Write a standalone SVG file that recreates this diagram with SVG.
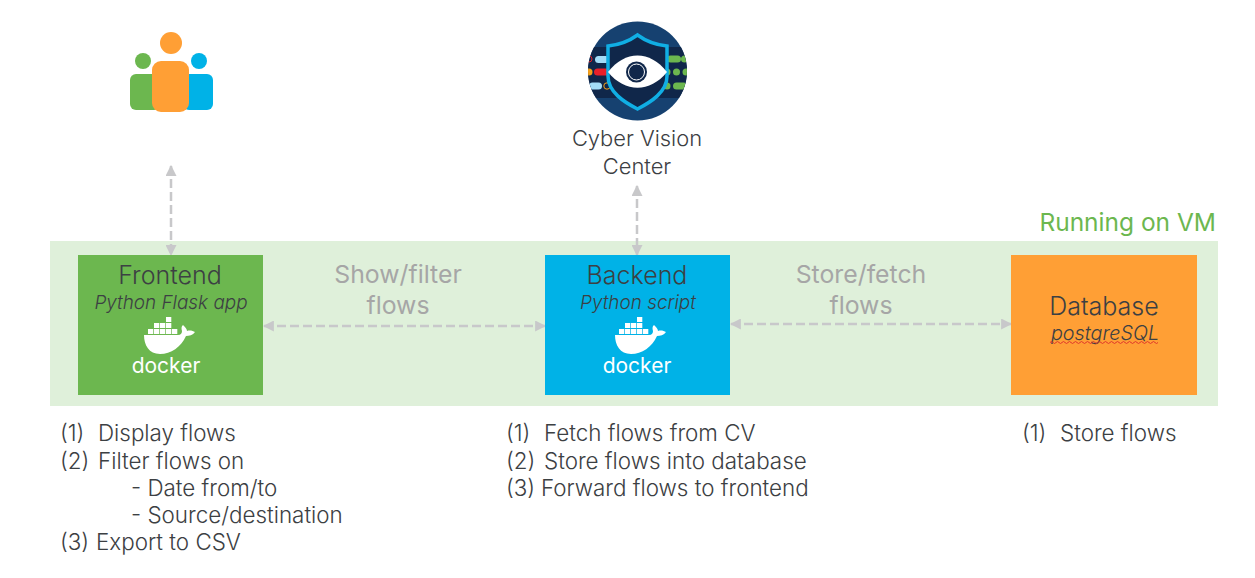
<svg xmlns="http://www.w3.org/2000/svg" width="1255" height="578" viewBox="0 0 1255 578">
<style>
text{font-family:"Inter","Liberation Sans",sans-serif;fill:#3c4043;font-weight:300}
.t{font-size:25px;text-anchor:middle}
.cv{font-size:21.900px;text-anchor:middle}
.s{font-size:18.900px;font-style:italic;text-anchor:middle}
.g{font-size:24.800px;fill:#a6a6a6;text-anchor:middle;font-weight:400}
.l{font-size:22.400px}
.c{fill:none;stroke:#c8c8ca;stroke-width:2.500;stroke-dasharray:9 4;marker-start:url(#a);marker-end:url(#a)}
</style>
<defs>
<marker id="a" viewBox="0 0 10 10" refX="9" refY="5" markerWidth="4.400" markerHeight="4.400" orient="auto-start-reverse"><path d="M0 0L10 5L0 10Z" fill="#c8c8ca"/></marker>
<g id="whale" fill="#fff">
<path d="M-22 1H12C15 1 16 -1 16 -3C15 -7 16 -8 17 -9C19 -7 21 -5 21 -3C24 -4 27 -3 29 -2C27 1 23 2 20 2C15 13 5 20 -6 20C-17 20 -22 11 -22 1Z"/>
<path d="M-18 -5h5.300v5h-5.300zM-12 -5h5.300v5h-5.300zM-6 -5h5.300v5h-5.300zM0 -5h5.300v5h-5.300zM6 -5h5.300v5h-5.300zM-12 -11h5.300v5h-5.300zM-6 -11h5.300v5h-5.300zM0 -11h5.300v5h-5.300zM0 -17h5.300v5h-5.300z"/>
<text y="39" x="0" font-size="21" text-anchor="middle" style="fill:#fff;font-weight:400">docker</text>
</g>
</defs>
<rect id="vm" x="50" y="241" width="1168" height="165" fill="#dff0da"/>
<text x="1216" y="231" font-size="24.500" text-anchor="end" style="fill:#6cb74f;font-weight:400">Running on VM</text>
<g id="connectors">
<path class="c" d="M171 166V255"/>
<path class="c" d="M637 186V255"/>
<path class="c" d="M264 326H545"/>
<path class="c" d="M731 324H1011"/>
</g>
<g id="users">
<circle cx="143" cy="61" r="8" fill="#6cb74f"/>
<rect x="130" y="74" width="30" height="36" rx="6" fill="#6cb74f"/>
<circle cx="199" cy="61" r="8" fill="#00b2e7"/>
<rect x="183" y="74" width="30" height="36" rx="6" fill="#00b2e7"/>
<circle cx="171" cy="43" r="11" fill="#ff9f35"/>
<rect x="152" y="61" width="37" height="51" rx="9" fill="#ff9f35"/>
</g>
<g id="cv">
<circle cx="637.500" cy="71" r="49.500" fill="#164170"/>
<clipPath id="cc"><circle cx="637.500" cy="71" r="49.500"/></clipPath>
<g clip-path="url(#cc)">
<rect x="588" y="47" width="100" height="51" fill="#10274a"/>
<circle cx="589" cy="59" r="3" fill="none" stroke="#e8202a" stroke-width="1"/>
<rect x="595" y="56" width="14" height="7" rx="3.500" fill="#a3dcf7"/>
<circle cx="589" cy="72" r="3.500" fill="#f7a11a"/>
<rect x="594" y="68.500" width="15" height="7" rx="3.500" fill="#e8202a"/>
<rect x="589" y="82.500" width="13" height="7" rx="3.500" fill="#a3dcf7"/>
<circle cx="607" cy="86" r="3.200" fill="none" stroke="#f7a11a" stroke-width="1"/>
<rect x="667" y="55.500" width="14" height="7" rx="3.500" fill="#6cb74f"/>
<circle cx="684.500" cy="59" r="3.500" fill="#6cb74f"/>
<circle cx="667" cy="72" r="3.500" fill="#6cb74f"/>
<circle cx="676.500" cy="72" r="3.500" fill="#6cb74f"/>
<circle cx="686" cy="72" r="3.500" fill="#6cb74f"/>
<circle cx="667" cy="86" r="3.500" fill="#6cb74f"/>
<rect x="673" y="82.500" width="14" height="7" rx="3.500" fill="#6cb74f"/>
</g>
<path d="M637.500 35C628 42 618 45 608 46V76C608 92 624 102 637.500 109C651 102 667 92 667 76V46C657 45 647 42 637.500 35Z" fill="#10274a" stroke="#10aee4" stroke-width="3.500"/>
<path d="M608 72C625 50 650 50 667 72C650 93 625 93 608 72Z" fill="#fff"/>
<circle cx="636.500" cy="72" r="10.500" fill="#10274a"/>
<circle cx="636.500" cy="72" r="8" fill="#10274a" stroke="#fff" stroke-width="1"/>
<text class="cv" x="637" y="146">Cyber Vision</text>
<text class="cv" x="637" y="174">Center</text>
</g>
<g id="frontend">
<rect x="78" y="255" width="185" height="140" fill="#6cb74f"/>
<text class="t" x="170" y="284">Frontend</text>
<text class="s" x="171" y="309">Python Flask app</text>
<use href="#whale" x="166" y="334"/>
</g>
<g id="backend">
<rect x="545" y="255" width="185" height="140" fill="#00b2e7"/>
<text class="t" x="637" y="284">Backend</text>
<text class="s" x="638" y="309">Python script</text>
<use href="#whale" x="637" y="334"/>
</g>
<g id="database">
<rect x="1011" y="255" width="186" height="140" fill="#ff9f35"/>
<text class="t" x="1104" y="315">Database</text>
<text class="s" x="1105" y="340" style="font-size:19.800px">postgreSQL</text>
<path d="M1050 342.500q1.500 -2 3 0t3 0t3 0t3 0t3 0t3 0t3 0t3 0t3 0t3 0t3 0t3 0t3 0t3 0t3 0t3 0t3 0t3 0t3 0t3 0t3 0t3 0t3 0t3 0t3 0t3 0t3 0t3 0t3 0t3 0t3 0t3 0t3 0t3 0t3 0t3 0" fill="none" stroke="#e0362c" stroke-width="1"/>
</g>
<text class="g" x="398" y="283">Show/filter</text>
<text class="g" x="398" y="314">flows</text>
<text class="g" x="861" y="283">Store/fetch</text>
<text class="g" x="861" y="314">flows</text>
<g id="notes">
<text class="l" x="60" y="441">(1)</text><text class="l" x="98" y="441">Display flows</text>
<text class="l" x="60" y="469">(2)</text><text class="l" x="98" y="469">Filter flows on</text>
<text class="l" x="131" y="496">- Date from/to</text>
<text class="l" x="131" y="523">- Source/destination</text>
<text class="l" x="60" y="550">(3)</text><text class="l" x="96" y="550">Export to CSV</text>
<text class="l" x="506" y="441">(1)</text><text class="l" x="544" y="441">Fetch flows from CV</text>
<text class="l" x="506" y="469">(2)</text><text class="l" x="544" y="469">Store flows into database</text>
<text class="l" x="506" y="496">(3)</text><text class="l" x="541" y="496">Forward flows to frontend</text>
<text class="l" x="1022" y="441">(1)</text><text class="l" x="1060" y="441">Store flows</text>
</g>
</svg>
